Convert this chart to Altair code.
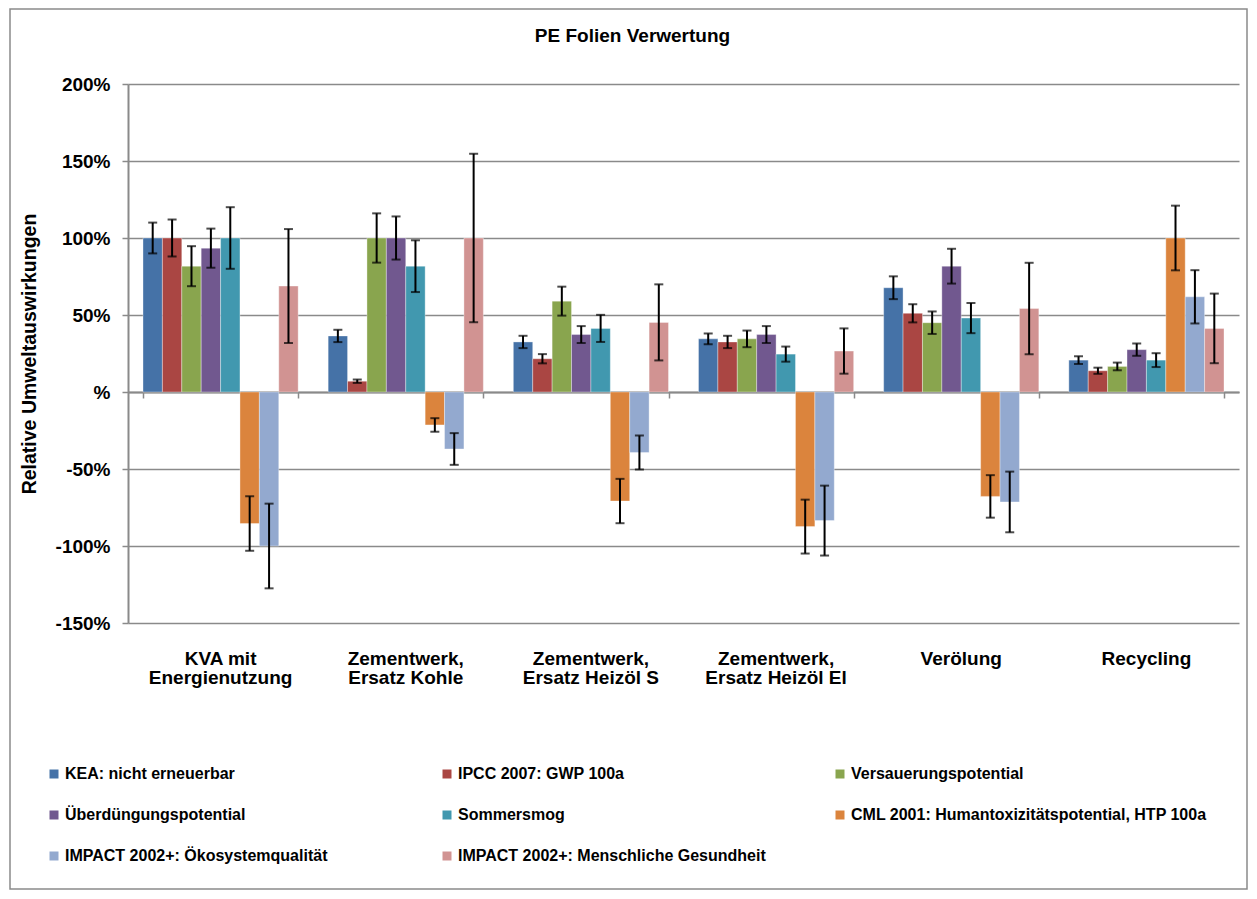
import altair as alt
import pandas as pd

categories = ["KVA mit|Energienutzung", "Zementwerk,|Ersatz Kohle", "Zementwerk,|Ersatz Heizöl S",
              "Zementwerk,|Ersatz Heizöl El", "Verölung", "Recycling"]
series = ["KEA: nicht erneuerbar", "IPCC 2007: GWP 100a", "Versauerungspotential",
          "Überdüngungspotential", "Sommersmog", "CML 2001: Humantoxizitätspotential, HTP 100a",
          "IMPACT 2002+: Ökosystemqualität", "IMPACT 2002+: Menschliche Gesundheit"]
colors = ["#4572A7", "#AA4643", "#89A54E", "#71588F", "#4198AF", "#DB843D", "#93A9CF", "#D19392"]

# values in percent, one list per series (order = categories)
kea = [100, 36.4, 32.5, 34.5, 67.7, 20.7]
ipcc = [100, 7, 21.6, 32.5, 51.1, 13.8]
versauerung = [81.7, 100, 59, 34.5, 45, 16.6]
ueberduengung = [93.4, 100, 37.3, 37.3, 81.7, 27.5]
sommersmog = [100, 81.7, 41.3, 24.6, 48, 20.7]
cml = [-85.4, -21.4, -70.8, -87.4, -67.8, 100]
impact_oeko = [-100, -37, -39.3, -83.5, -71.4, 61.8]
impact_mensch = [68.8, 100, 45.2, 26.6, 54.2, 41.3]

# error bar half-widths in percent
kea_err = [10, 4, 4, 3.5, 7.4, 2.5]
ipcc_err = [12, 1.1, 3, 4, 5.9, 2]
versauerung_err = [13, 16, 9.4, 5.4, 7.3, 2.5]
ueberduengung_err = [12.7, 14, 5.5, 5.5, 11.3, 4]
sommersmog_err = [20, 16.8, 8.8, 4.9, 9.8, 4.5]
cml_err = [17.7, 4.4, 14.4, 17.5, 13.8, 21]
impact_oeko_err = [27.5, 10.3, 11, 22.7, 19.7, 17.3]
impact_mensch_err = [37, 54.7, 24.7, 14.7, 29.7, 22.6]

vals = [kea, ipcc, versauerung, ueberduengung, sommersmog, cml, impact_oeko, impact_mensch]
errs = [kea_err, ipcc_err, versauerung_err, ueberduengung_err, sommersmog_err, cml_err,
        impact_oeko_err, impact_mensch_err]

rows = []
for s, v, e in zip(series, vals, errs):
    for c, vv, ee in zip(categories, v, e):
        rows.append({"cat": c, "series": s, "value": vv, "lo": vv - ee, "hi": vv + ee})
df = pd.DataFrame(rows)

FONT = "Liberation Sans"
GRAY = "#8a8a8a"
W, H = 1111, 539

xscale = alt.Scale(paddingInner=0.162, paddingOuter=0.081)
xoff = alt.XOffset("series:N", sort=series, scale=alt.Scale(domain=series, paddingInner=0, paddingOuter=0))
yscale = alt.Scale(domain=[-150, 200], nice=False, zero=True)

label_axis = alt.Axis(orient="bottom", title=None, domain=False, ticks=False, grid=False,
                      labelExpr="split(datum.value, '|')", labelFont=FONT, labelFontSize=19,
                      labelFontWeight="bold", labelColor="black", labelPadding=26,
                      labelLineHeight=19.5, labelAngle=0, labelBaseline="top")
tick_axis = alt.Axis(orient="bottom", title=None, labels=False, grid=False, offset=-231,
                     domain=True, domainColor=GRAY, domainWidth=2, ticks=True, tickBand="extent",
                     tickSize=6, tickColor=GRAY, tickWidth=1.5)
y_axis = alt.Axis(values=[-150, -100, -50, 0, 50, 100, 150, 200],
                  labelExpr="datum.value == 0 ? '%' : datum.value + '%'",
                  labelFont=FONT, labelFontSize=19, labelFontWeight="bold", labelColor="black",
                  labelPadding=12, tickSize=6, tickColor=GRAY, tickWidth=1.5,
                  domainColor=GRAY, domainWidth=2, grid=True, gridColor=GRAY, gridWidth=1.4,
                  title="Relative Umweltauswirkungen", titleFont=FONT, titleFontSize=19.5,
                  titleFontWeight="bold", titleColor="black", titleX=-93, titleY=H / 2,
                  titleAngle=270, titleAlign="center", titleBaseline="alphabetic")

legend = alt.Legend(title=None, orient="none", legendX=-82, legendY=682, columns=3,
                    direction="horizontal", gridAlign="all", symbolType="square", symbolSize=81,
                    symbolStrokeWidth=0, labelFont=FONT, labelFontSize=16, labelFontWeight="bold",
                    labelColor="black", labelLimit=600, labelOffset=3, rowPadding=25,
                    columnPadding=18)

base = alt.Chart(df)

bars = base.mark_bar(stroke="white", strokeWidth=0.5, strokeOpacity=0.7).encode(
    x=alt.X("cat:N", sort=categories, scale=xscale, axis=label_axis),
    xOffset=xoff,
    y=alt.Y("value:Q", scale=yscale, axis=y_axis),
    color=alt.Color("series:N", sort=series, scale=alt.Scale(domain=series, range=colors), legend=legend),
)

rules = base.mark_rule(color="black", strokeWidth=2).encode(
    x=alt.X("cat:N", sort=categories, scale=xscale, axis=tick_axis),
    xOffset=xoff,
    y=alt.Y("lo:Q", scale=yscale, axis=y_axis),
    y2="hi:Q",
)

caps_lo = base.mark_tick(color="black", size=9, thickness=2, orient="horizontal").encode(
    x=alt.X("cat:N", sort=categories, scale=xscale, axis=None),
    xOffset=xoff,
    y=alt.Y("lo:Q", scale=yscale, axis=y_axis),
)
caps_hi = base.mark_tick(color="black", size=9, thickness=2, orient="horizontal").encode(
    x=alt.X("cat:N", sort=categories, scale=xscale, axis=None),
    xOffset=xoff,
    y=alt.Y("hi:Q", scale=yscale, axis=y_axis),
)

frame = alt.Chart(pd.DataFrame({"a": [0]})).mark_rect(
    fillOpacity=0, stroke=GRAY, strokeWidth=1.5
).encode(x=alt.value(-118), x2=alt.value(1119), y=alt.value(-75), y2=alt.value(805))

chart = alt.layer(frame, bars, rules, caps_lo, caps_hi).resolve_axis(x="independent").properties(
    width=W, height=H,
    title=alt.TitleParams("PE Folien Verwertung", font=FONT, fontSize=19, fontWeight="bold",
                          color="black", anchor="middle", frame="group", dx=-51, offset=0, dy=53,
                          baseline="alphabetic"),
    autosize=alt.AutoSizeParams(type="none"),
    padding={"left": 120, "top": 76, "right": 10, "bottom": 268},
).configure_view(stroke=None)

chart.save("out.html", embed_options={"renderer": "svg", "actions": False})
